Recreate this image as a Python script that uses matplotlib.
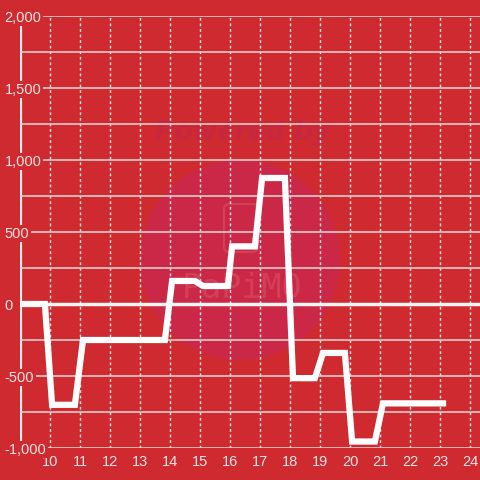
import matplotlib
matplotlib.use('Agg')
import matplotlib.pyplot as plt
from matplotlib.patches import Ellipse, FancyBboxPatch
from matplotlib.ticker import MultipleLocator, FuncFormatter

# data (hour, value)
hours = [9.0, 9.83, 10.07, 10.83, 11.1, 13.83, 14.07, 14.83, 15.1, 15.93,
         16.07, 16.83, 17.07, 17.83, 18.1, 18.83, 19.1, 19.83, 20.07, 20.83,
         21.1, 23.1]
values = [0, 0, -700, -700, -250, -250, 160, 160, 125, 125,
          400, 400, 875, 875, -515, -515, -340, -340, -955, -955,
          -690, -690]
x_ticks = list(range(10, 25))
y_ticks = [-1000, -500, 0, 500, 1000, 1500, 2000]

bg = '#ce2a2f'
txt = '#f3e4e4'
plt.rcParams['font.family'] = ['Liberation Sans', 'DejaVu Sans']

fig = plt.figure(figsize=(4.8, 4.8), dpi=100)
fig.patch.set_facecolor(bg)
ax = fig.add_axes([20 / 480, 32 / 480, 460 / 480, 432 / 480])
ax.set_facecolor(bg)

ax.set_xlim(9.0, 9.0 + 460 / 30)
ax.set_ylim(-1000, 2000)

for s in ax.spines.values():
    s.set_visible(False)

# watermark
ax.add_patch(Ellipse((220 / 460, 188 / 432), 200 / 460, 200 / 432, transform=ax.transAxes,
                     facecolor='#cb2848', edgecolor='none', zorder=0.5))
ax.add_patch(FancyBboxPatch((204 / 460, 196 / 432), 34 / 460, 48 / 432,
                            boxstyle='round,pad=0,rounding_size=0.012',
                            transform=ax.transAxes, facecolor='none',
                            edgecolor='#d9505f', lw=1.5, alpha=0.6, zorder=0.6))
ax.text(222 / 460, 160 / 432, 'PaPiMO', transform=ax.transAxes, ha='center', va='center',
        fontsize=24, color='#d9505f', alpha=0.6, family='DejaVu Sans Mono', zorder=0.6)
ax.text(222 / 460, 315 / 432, 'Powered by', transform=ax.transAxes, ha='center', va='center',
        fontsize=19, fontweight='bold', style='italic', color='#c7283f',
        family='DejaVu Sans', zorder=0.5)

ax.set_xticks(x_ticks)
ax.set_yticks(y_ticks)
ax.yaxis.set_minor_locator(MultipleLocator(250))
ax.yaxis.set_major_formatter(FuncFormatter(lambda v, p: f'{int(v):,}'))

ax.grid(True, axis='y', which='both', color='#d5cccc', lw=1.2)
ax.grid(True, axis='x', which='major', color='#f5eaea', lw=1, ls=(0, (2, 2)))

ax.tick_params(axis='y', which='both', length=0, pad=11, labelsize=10.5, labelcolor=txt)
ax.tick_params(axis='x', which='both', length=0, pad=5, labelsize=10.5, labelcolor=txt)
for lab in ax.get_yticklabels():
    lab.set_ha('left')
    lab.set_bbox(dict(facecolor=bg, edgecolor='none', pad=1))

# y axis line and zero line
ax.axvline(9.0, color='#f5f0f0', lw=3, zorder=1)
ax.axhline(0, color='#f8f4f4', lw=2.5, zorder=2)

ax.plot(hours, values, color='white', lw=4.5, zorder=3,
        solid_joinstyle='miter', solid_capstyle='projecting')

fig.savefig('out.png', dpi=100, facecolor=bg)
